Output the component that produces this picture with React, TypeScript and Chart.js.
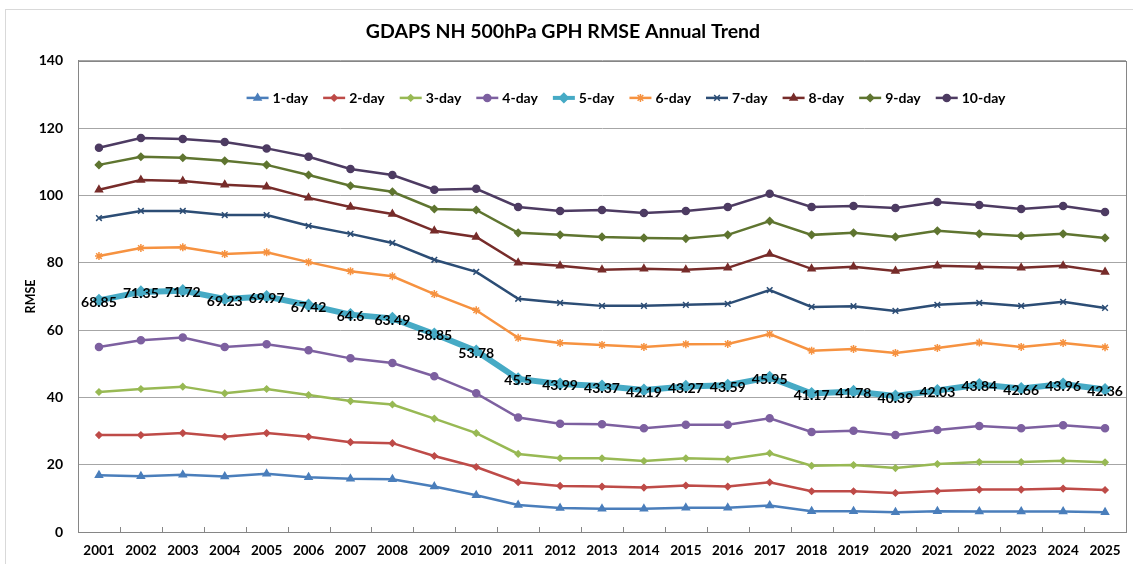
import React, { useEffect, useRef } from 'react';
import { Chart, registerables } from 'chart.js';
import { drawPoint } from 'chart.js/helpers';

Chart.register(...registerables);

const years = ['2001', '2002', '2003', '2004', '2005', '2006', '2007', '2008', '2009', '2010', '2011', '2012', '2013', '2014', '2015', '2016', '2017', '2018', '2019', '2020', '2021', '2022', '2023', '2024', '2025'];

const day1 = [16.9, 16.6, 17.0, 16.5, 17.3, 16.3, 15.8, 15.7, 13.5, 10.9, 8.0, 7.1, 6.9, 6.9, 7.2, 7.2, 7.9, 6.2, 6.2, 5.9, 6.2, 6.1, 6.1, 6.1, 5.9];
const day2 = [28.8, 28.8, 29.4, 28.3, 29.4, 28.3, 26.7, 26.4, 22.6, 19.3, 14.8, 13.7, 13.5, 13.2, 13.8, 13.5, 14.8, 12.1, 12.1, 11.6, 12.2, 12.6, 12.6, 12.9, 12.5];
const day3 = [41.6, 42.5, 43.2, 41.2, 42.5, 40.7, 38.9, 37.9, 33.7, 29.4, 23.2, 21.9, 21.9, 21.1, 21.9, 21.6, 23.4, 19.7, 19.9, 19.0, 20.2, 20.8, 20.8, 21.2, 20.7];
const day4 = [55.0, 57.0, 57.8, 55.0, 55.8, 54.0, 51.6, 50.2, 46.3, 41.2, 34.0, 32.2, 32.0, 30.8, 31.9, 31.9, 33.8, 29.7, 30.1, 28.8, 30.3, 31.5, 30.8, 31.7, 30.8];
const day5 = [68.85, 71.35, 71.72, 69.23, 69.97, 67.42, 64.6, 63.49, 58.85, 53.78, 45.5, 43.99, 43.37, 42.19, 43.27, 43.59, 45.95, 41.17, 41.78, 40.39, 42.03, 43.84, 42.66, 43.96, 42.36];
const day6 = [82.0, 84.4, 84.6, 82.6, 83.1, 80.2, 77.5, 76.0, 70.7, 65.9, 57.7, 56.2, 55.6, 55.0, 55.8, 55.9, 58.8, 53.9, 54.4, 53.2, 54.7, 56.3, 55.0, 56.2, 54.9];
const day7 = [93.3, 95.4, 95.4, 94.2, 94.2, 91.0, 88.6, 85.9, 80.9, 77.3, 69.3, 68.1, 67.2, 67.2, 67.5, 67.8, 71.9, 66.9, 67.1, 65.7, 67.5, 68.1, 67.2, 68.4, 66.6];
const day8 = [101.7, 104.6, 104.3, 103.2, 102.6, 99.3, 96.6, 94.5, 89.5, 87.7, 80.0, 79.1, 77.9, 78.2, 77.9, 78.5, 82.6, 78.2, 78.8, 77.6, 79.1, 78.8, 78.5, 79.1, 77.3];
const day9 = [109.1, 111.5, 111.2, 110.3, 109.1, 106.1, 102.9, 101.1, 96.0, 95.7, 88.9, 88.3, 87.7, 87.4, 87.2, 88.3, 92.4, 88.3, 88.9, 87.7, 89.5, 88.6, 88.0, 88.6, 87.4];
const day10 = [114.2, 117.1, 116.8, 115.9, 114.0, 111.5, 107.9, 106.1, 101.7, 102.0, 96.6, 95.4, 95.7, 94.8, 95.4, 96.6, 100.5, 96.6, 96.9, 96.3, 98.1, 97.2, 96.0, 96.9, 95.1];

const seriesNames = ['1-day', '2-day', '3-day', '4-day', '5-day', '6-day', '7-day', '8-day', '9-day', '10-day'];
const seriesValues = [day1, day2, day3, day4, day5, day6, day7, day8, day9, day10];
const seriesColors = ['#4A7EBB', '#BE4B48', '#98B954', '#7D60A0', '#46AAC5', '#F69240', '#2C4D75', '#772C2A', '#5F7530', '#4D3B62'];
const pointStyles = ['triangle', 'rectRot', 'rectRot', 'circle', 'rectRot', 'star', 'crossRot', 'triangle', 'rectRot', 'circle'];
const pointRadii = [4, 3, 3, 3.5, 5.5, 4, 4, 4, 3.5, 3.5];
const lineWidths = [2.5, 2.5, 2.5, 2.5, 6, 2.5, 2.5, 2.5, 2.5, 2.5];
const labeledSeries = '5-day';

const yMin = 0;
const yMax = 140;
const yStep = 20;

const titleText = 'GDAPS NH 500hPa GPH RMSE Annual Trend';
const yTitle = 'RMSE';
const FONT = 'Lato, "Open Sans", sans-serif';

const frameAndBorder = {
  id: 'frameAndBorder',
  beforeDraw(chart: any) {
    const ctx = chart.ctx;
    ctx.save();
    ctx.fillStyle = '#ffffff';
    ctx.fillRect(0, 0, chart.width, chart.height);
    ctx.strokeStyle = '#D9D9D9';
    ctx.lineWidth = 1;
    ctx.strokeRect(5.5, 9.5, chart.width + 20, chart.height + 20);
    ctx.restore();
  },
  beforeDatasetsDraw(chart: any) {
    const ctx = chart.ctx;
    const a = chart.chartArea;
    ctx.save();
    ctx.strokeStyle = '#868686';
    ctx.lineWidth = 1;
    ctx.strokeRect(Math.round(a.left) + 0.5, Math.round(a.top) + 0.5, Math.round(a.right - a.left), Math.round(a.bottom - a.top));
    const n = chart.data.labels.length;
    const w = (a.right - a.left) / n;
    ctx.beginPath();
    for (let i = 1; i < n; i++) {
      const x = Math.round(a.left + i * w) + 0.5;
      ctx.moveTo(x, a.bottom);
      ctx.lineTo(x, a.bottom - 5);
    }
    ctx.stroke();
    ctx.restore();
  },
};

const valueLabels = {
  id: 'valueLabels',
  afterDatasetsDraw(chart: any) {
    const ctx = chart.ctx;
    chart.data.datasets.forEach((ds: any, di: number) => {
      if (ds.label !== labeledSeries) return;
      const meta = chart.getDatasetMeta(di);
      ctx.save();
      ctx.font = 'bold 14px ' + FONT;
      ctx.fillStyle = '#000000';
      ctx.textAlign = 'center';
      ctx.textBaseline = 'middle';
      meta.data.forEach((el: any, i: number) => {
        ctx.fillText(String(ds.data[i]), el.x, el.y + 2);
      });
      ctx.restore();
    });
  },
};

const insideLegend = {
  id: 'insideLegend',
  afterDraw(chart: any) {
    const ctx = chart.ctx;
    const a = chart.chartArea;
    ctx.save();
    ctx.font = 'bold 14px ' + FONT;
    const lineLen = 22;
    const textGap = 4;
    const itemGap = 15;
    const items = chart.data.datasets.map((ds: any) => ({
      ds,
      w: lineLen + textGap + ctx.measureText(ds.label).width,
    }));
    const total = items.reduce((s: number, it: any) => s + it.w, 0) + itemGap * (items.length - 1);
    let x = (a.left + a.right) / 2 - total / 2 + 24;
    const y = a.top + 37;
    items.forEach((it: any) => {
      const ds = it.ds;
      ctx.strokeStyle = ds.borderColor;
      ctx.lineWidth = Math.min(ds.borderWidth, 4);
      ctx.beginPath();
      ctx.moveTo(x, y);
      ctx.lineTo(x + lineLen, y);
      ctx.stroke();
      ctx.fillStyle = ds.pointBackgroundColor;
      ctx.strokeStyle = ds.pointBorderColor;
      ctx.lineWidth = ds.pointBorderWidth;
      const r = Math.min(ds.pointRadius, 4.5);
      drawPoint(ctx, { pointStyle: ds.pointStyle, rotation: 0, radius: r, borderWidth: ds.pointBorderWidth }, x + lineLen / 2, y);
      ctx.fillStyle = '#000000';
      ctx.textAlign = 'left';
      ctx.textBaseline = 'middle';
      ctx.fillText(ds.label, x + lineLen + textGap, y + 1);
      x += it.w + itemGap;
    });
    ctx.restore();
  },
};

export default function App() {
  const ref = useRef<HTMLCanvasElement | null>(null);

  useEffect(() => {
    document.body.style.margin = '0';
    if (!ref.current) return;
    const datasets = seriesNames.map((name, i) => ({
      label: name,
      data: seriesValues[i],
      borderColor: seriesColors[i],
      backgroundColor: seriesColors[i],
      borderWidth: lineWidths[i],
      pointStyle: pointStyles[i],
      pointRadius: pointRadii[i],
      pointHoverRadius: pointRadii[i],
      pointBackgroundColor: seriesColors[i],
      pointBorderColor: seriesColors[i],
      pointBorderWidth: 1.5,
      tension: 0,
      fill: false,
    }));
    const chart = new Chart(ref.current, {
      type: 'line',
      data: { labels: years, datasets },
      options: {
        animation: false,
        responsive: false,
        maintainAspectRatio: false,
        layout: { padding: { left: 0, right: 7, top: 0, bottom: 0 } },
        plugins: {
          legend: { display: false },
          tooltip: { enabled: false },
          title: {
            display: true,
            text: titleText,
            color: '#000000',
            font: { family: FONT, size: 19.5, weight: 'bold' },
            padding: { top: 20, bottom: 17.5 },
          },
        },
        scales: {
          x: {
            type: 'category',
            offset: true,
            grid: { display: false, drawTicks: false },
            border: { display: true, color: '#868686' },
            ticks: {
              color: '#000000',
              font: { family: FONT, size: 13.5, weight: 'bold' },
              padding: 11,
              maxRotation: 0,
              autoSkip: false,
            },
            afterFit(scale: any) {
              scale.height = 32;
            },
          },
          y: {
            min: yMin,
            max: yMax,
            ticks: {
              stepSize: yStep,
              color: '#000000',
              font: { family: FONT, size: 14, weight: 'bold' },
              padding: 15,
            },
            grid: { color: '#A6A6A6', lineWidth: 1, drawTicks: false },
            border: { display: true, color: '#868686' },
            title: {
              display: true,
              text: yTitle,
              color: '#000000',
              font: { family: FONT, size: 12.5, weight: 'bold' },
              padding: { top: 23, bottom: 0 },
            },
            afterFit(scale: any) {
              scale.width = 78;
            },
          },
        },
      },
      plugins: [frameAndBorder, valueLabels, insideLegend],
    } as any);
    return () => chart.destroy();
  }, []);

  return (
    <div style={{ width: 1133, height: 564, position: 'relative' }}>
      <canvas ref={ref} width={1133} height={564} style={{ display: 'block' }} />
    </div>
  );
}
